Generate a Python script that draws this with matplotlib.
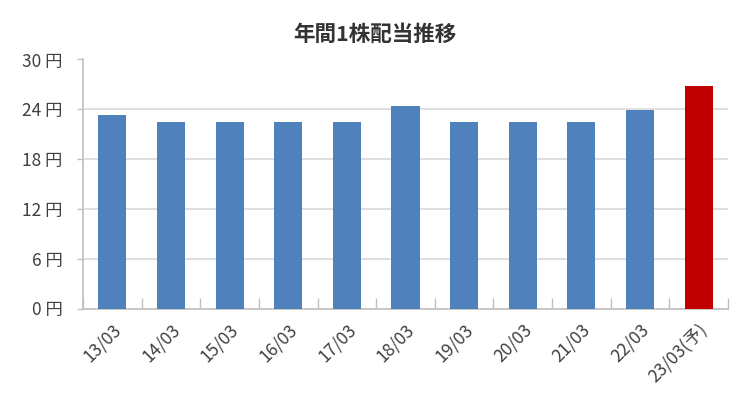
import matplotlib
matplotlib.use("Agg")
import matplotlib.pyplot as plt
import numpy as np

plt.rcParams['font.family'] = ['Noto Sans CJK JP', 'DejaVu Sans']

categories = ['13/03', '14/03', '15/03', '16/03', '17/03', '18/03', '19/03', '20/03', '21/03', '22/03', '23/03(予)']
values = [23.33, 22.5, 22.5, 22.5, 22.5, 24.44, 22.5, 22.5, 22.5, 23.9, 26.75]
colors = ['#4f81bd'] * 10 + ['#c00000']
yticks = [0, 6, 12, 18, 24, 30]
ytick_labels = ['0 円', '6 円', '12 円', '18 円', '24 円', '30 円']
title = '年間1株配当推移'

fig = plt.figure(figsize=(7.51, 4.01), dpi=100)
ax = fig.add_axes([83/751, 1 - 308.5/401, (728 - 83)/751, (308.5 - 59.5)/401])

x = np.arange(len(categories))
ax.bar(x, values, width=0.48, color=colors, zorder=3)
ax.set_xlim(-0.5, len(categories) - 0.5)
ax.set_ylim(0, 30)

ax.set_yticks(yticks)
ax.set_yticklabels(ytick_labels, fontsize=12.5, color='#404040')
ax.yaxis.grid(True, color='#d9d9d9', linewidth=1.2, zorder=0)
ax.tick_params(axis='y', length=4.3, color='#bfbfbf', width=1, pad=10.5)

ax.set_xticks(x)
ax.set_xticklabels(categories, rotation=45, ha='right', rotation_mode='anchor',
                   fontsize=12.5, color='#404040')
ax.tick_params(axis='x', length=0, pad=9)
ax.set_xticks(np.arange(len(categories) + 1) - 0.5, minor=True)
ax.tick_params(axis='x', which='minor', direction='in', length=8, color='#bfbfbf', width=1)

for s in ['top', 'right']:
    ax.spines[s].set_visible(False)
for s in ['left', 'bottom']:
    ax.spines[s].set_color('#bfbfbf')
    ax.spines[s].set_linewidth(1.2)

fig.text(375/751, 1 - 34/401, title, ha='center', va='center', fontsize=15.5,
         fontweight='bold', color='#333333')

fig.savefig('out.png', dpi=100)
